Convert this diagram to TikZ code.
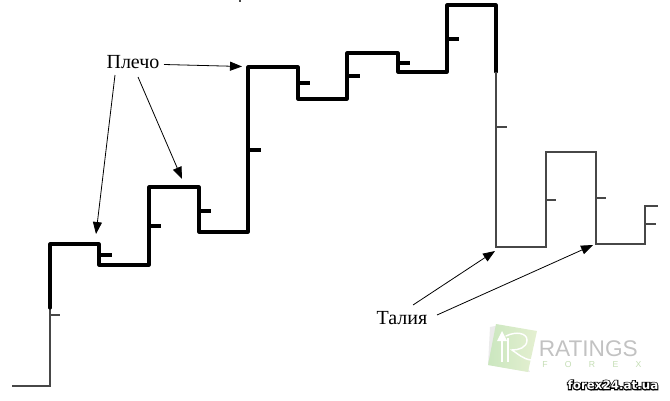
\documentclass[tikz,border=0pt]{standalone}
\usepackage{fontspec}
\setmainfont{Liberation Serif}
\newfontfamily\logofont{Liberation Sans}
\newfontfamily\sitefont{DejaVu Sans}
\usetikzlibrary{arrows.meta}
\definecolor{paleA}{HTML}{C9E6BE}
\definecolor{paleB}{HTML}{E6F0D2}
\definecolor{forexgreen}{HTML}{C4DDB4}
\newcommand{\outlined}[1]{\special{pdf:code 2 Tr 1.5 w 0 0 0 RG 0 0 0 rg}\rlap{#1}\special{pdf:code 0 Tr 1 1 1 rg}{\color{white}#1}\special{pdf:code 0 Tr}}
\tikzset{
  x=0.75pt,y=-0.75pt,
  thickline/.style={line width=2.3pt,line join=round,line cap=round,black},
  heavyline/.style={line width=3pt,line cap=butt,black},
  tickmark/.style={line width=2.3pt,line cap=butt,black},
  thinline/.style={line width=0.95pt,line join=miter,black!72},
  pointer/.style={line width=0.6pt,black,-{Triangle[length=9pt,width=6.8pt]}},
  label/.style={font=\fontsize{15pt}{17pt}\selectfont,inner sep=0pt,text=black},
}
\begin{document}
\begin{tikzpicture}
\useasboundingbox (0,0) rectangle (670,400);
% logo
\fill[black!8] (490,327) -- (500,325) -- (530,372) -- (488,365) -- cycle;
\begin{scope}
  \clip (496,324) -- (537,331) -- (528,372) -- (488,365) -- cycle;
  \shade[left color=paleA,right color=paleB] (485,320) rectangle (540,375);
\end{scope}
\draw[white,line width=1.5pt] (502,362) -- (502,338);
\fill[white] (502,331) -- (507,341) -- (497,341) -- cycle;
\draw[white,line width=1pt] (508,362) -- (508,338);
\draw[white,line width=1.1pt,line cap=round] (506,336) .. controls (516,331) and (527,333) .. (527,340) .. controls (527,348) and (518,350) .. (512,350) .. controls (518,354) and (523,359) .. (531,360);
\node[inner sep=0pt,text=black!24,font=\logofont\fontsize{17pt}{19pt}\selectfont,anchor=west] (ratings) at (538.5,349) {RATINGS};
\node[inner sep=0pt,text=forexgreen,font=\logofont\fontsize{6.5pt}{8pt}\selectfont,anchor=west] (forexword) at (542,365) {F\hspace{13pt}O\hspace{13pt}R\hspace{13pt}E\hspace{13pt}X};
\node[inner sep=0pt,font=\sitefont\bfseries\fontsize{8.9pt}{10pt}\selectfont] (site) at (613,385) {\outlined{forex24.at.ua}};
% trace
\coordinate (p0) at (12,386);
\coordinate (p1) at (50,386);
\coordinate (p2) at (50,308);
\coordinate (p3) at (50,244);
\coordinate (p4) at (99,244);
\coordinate (p5) at (99,265);
\coordinate (p6) at (149,265);
\coordinate (p7) at (149,187);
\coordinate (p8) at (199,187);
\coordinate (p9) at (199,232);
\coordinate (p10) at (248,232);
\coordinate (p11) at (248,67);
\coordinate (p12) at (298,67);
\coordinate (p13) at (298,99);
\coordinate (p14) at (347,99);
\coordinate (p15) at (347,53);
\coordinate (p16) at (398,53);
\coordinate (p17) at (398,72);
\coordinate (p18) at (447,72);
\coordinate (p19) at (447,5);
\coordinate (p20) at (496,5);
\coordinate (p21) at (496,72);
\coordinate (p22) at (496,247);
\coordinate (p23) at (546,247);
\coordinate (p24) at (546,152);
\coordinate (p25) at (596,152);
\coordinate (p26) at (596,244);
\coordinate (p27) at (645,244);
\coordinate (p28) at (645,206);
\coordinate (p29) at (658,206);
\draw[thinline] (p0) -- (p1) -- (p2);
\draw[thickline] (p2) -- (p3) -- (p4) -- (p5) -- (p6) -- (p7) -- (p8) -- (p9) -- (p10) -- (p11) -- (p12) -- (p13) -- (p14) -- (p15) -- (p16) -- (p17) -- (p18) -- (p19) -- (p20) -- (p21);
\draw[heavyline] (p2) -- (p3);
\draw[heavyline] (p20) -- (p21);
\draw[thinline] (p21) -- (p22) -- (p23) -- (p24) -- (p25) -- (p26) -- (p27) -- (p28) -- (p29);
% ticks
\draw[tickmark] (99,255) -- (112,255);
\draw[tickmark] (149,226) -- (161,226);
\draw[tickmark] (199,211) -- (211,211);
\draw[tickmark] (248,150) -- (261,150);
\draw[tickmark] (298,83) -- (310,83);
\draw[tickmark] (347,76) -- (360,76);
\draw[tickmark] (398,63) -- (410,63);
\draw[tickmark] (447,39) -- (459,39);
\draw[thinline] (50,315) -- (60,315);
\draw[thinline] (496,127) -- (507,127);
\draw[thinline] (546,200) -- (556,200);
\draw[thinline] (596,198) -- (606,198);
\draw[thinline] (645,224) -- (656,224);
\draw[thinline] (240,0) -- (240,1.5);
% labels and arrows
\node[label] (pl) at (133,62) {Плечо};
\node[label] (tal) at (402,318) {Талия};
\coordinate (plA) at (164,64.5);
\coordinate (plB) at (115,75);
\coordinate (plC) at (138,77);
\coordinate (tA) at (413,305);
\coordinate (tB) at (437,315);
\coordinate (shA) at (242,66.5);
\coordinate (shB) at (96,234);
\coordinate (shC) at (182,179);
\coordinate (wA) at (495,251);
\coordinate (wB) at (593,245);
\draw[pointer] (plA) -- (shA);
\draw[pointer] (plB) -- (shB);
\draw[pointer] (plC) -- (shC);
\draw[pointer] (tA) -- (wA);
\draw[pointer] (tB) -- (wB);
\end{tikzpicture}
\end{document}
